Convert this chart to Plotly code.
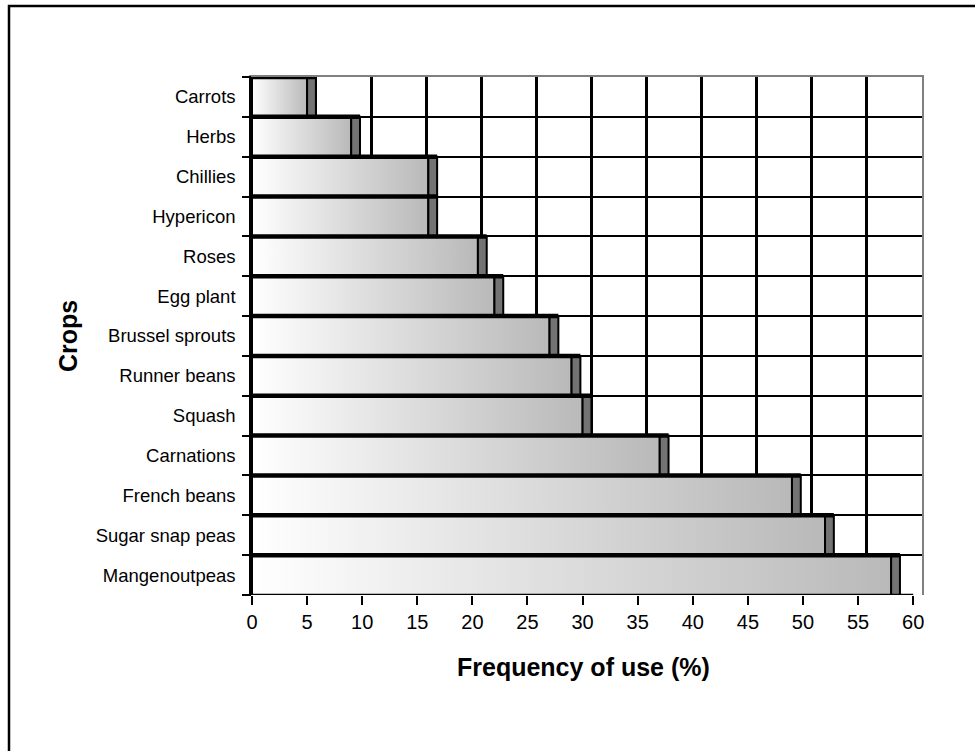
import plotly.graph_objects as go

# Crops, listed from the top of the chart to the bottom
crops = ["Carrots", "Herbs", "Chillies", "Hypericon", "Roses", "Egg plant",
         "Brussel sprouts", "Runner beans", "Squash", "Carnations",
         "French beans", "Sugar snap peas", "Mangenoutpeas"]
# Frequency of use (%)
frequency = [5, 9, 16, 16, 20.5, 22, 27, 29, 30, 37, 49, 52, 58]
x_ticks = list(range(0, 61, 5))

DEPTH = 0.8            # 3-D depth of the bars / back wall, in % units
FONT = "Liberation Sans, Arial, sans-serif"

n = len(crops)
slot = {c: n - 1 - k for k, c in enumerate(crops)}   # first crop sits on top
slot_edges = list(range(n + 1))
x_max = x_ticks[-1] + DEPTH

W, H = 975, 751
L, R, T, B = 252, 53, 77, 156
pw, ph = W - L - R, H - T - B

fig = go.Figure()

# bar front faces with a white-to-grey gradient
for c, v in zip(crops, frequency):
    y0, y1 = slot[c], slot[c] + 1
    fig.add_trace(go.Scatter(
        x=[0, v, v, 0, 0], y=[y0, y0, y1, y1, y0],
        mode="lines", fill="toself",
        fillgradient=dict(type="horizontal",
                          colorscale=[[0, "#ffffff"], [1, "#b9b9b9"]]),
        line=dict(color="black", width=2),
        hoverinfo="skip", showlegend=False))

# dark side faces of the bars
sx, sy = [], []
for c, v in zip(crops, frequency):
    y0, y1 = slot[c], slot[c] + 1
    sx += [v, v + DEPTH, v + DEPTH, v, v, None]
    sy += [y0, y0, y1, y1, y0, None]
fig.add_trace(go.Scatter(x=sx, y=sy, mode="lines", fill="toself",
                         fillcolor="#737373",
                         line=dict(color="black", width=2),
                         hoverinfo="skip", showlegend=False))

# top edges of the bars
tx, ty = [], []
for c, v in zip(crops, frequency):
    tx += [0, v + DEPTH, None]
    ty += [slot[c] + 1, slot[c] + 1, None]
fig.add_trace(go.Scatter(x=tx, y=ty, mode="lines",
                         line=dict(color="black", width=4.5),
                         hoverinfo="skip", showlegend=False))

# front floor edge
fig.add_trace(go.Scatter(x=[x_ticks[0], x_ticks[-1]], y=[0, 0], mode="lines",
                         line=dict(color="black", width=2.5),
                         hoverinfo="skip", showlegend=False))

# empty traces so the overlay axes are created
fig.add_trace(go.Scatter(x=[], y=[], xaxis="x2", yaxis="y2", showlegend=False))
fig.add_trace(go.Scatter(x=[], y=[], xaxis="x", yaxis="y3", showlegend=False))

fig.update_layout(
    width=W, height=H,
    margin=dict(l=L, r=R, t=T, b=B),
    paper_bgcolor="white", plot_bgcolor="white",
    showlegend=False,
    font=dict(family=FONT, color="black"),
    xaxis=dict(range=[0, x_max], tickvals=x_ticks,
               ticktext=[str(t) for t in x_ticks],
               ticks="outside", ticklen=9, tickwidth=2, tickcolor="black",
               tickfont=dict(size=20, family=FONT),
               showgrid=False, zeroline=False, showline=False,
               fixedrange=True),
    xaxis2=dict(overlaying="x", side="top", anchor="y2",
                range=[0, x_max],
                tickvals=[t + DEPTH for t in x_ticks[1:-1]],
                showticklabels=False, ticks="",
                showgrid=True, gridcolor="black", gridwidth=2.5,
                zeroline=False, showline=True, linecolor="#808080",
                linewidth=2),
    yaxis=dict(range=[0, n], tickvals=[slot[c] + 0.5 for c in crops],
               ticktext=crops, ticks="", ticklabelstandoff=10,
               tickfont=dict(size=18.5, family=FONT),
               showgrid=False, zeroline=False,
               showline=True, linecolor="black", linewidth=2.5),
    yaxis2=dict(overlaying="y", side="left", anchor="x2",
                range=[0, n], tickvals=slot_edges, showticklabels=False,
                ticks="outside", ticklen=9, tickwidth=2, tickcolor="black",
                showgrid=True, gridcolor="black", gridwidth=2,
                zeroline=False, showline=False),
    yaxis3=dict(overlaying="y", side="right", anchor="x",
                range=[0, n], showticklabels=False, ticks="",
                showgrid=False, zeroline=False,
                showline=True, linecolor="#808080", linewidth=2),
)

# axis titles
fig.add_annotation(text="<b>Frequency of use (%)</b>", xref="paper", yref="paper",
                   x=(583 - L) / pw, y=(H - B - 667) / ph,
                   xanchor="center", yanchor="middle",
                   showarrow=False, font=dict(size=25, family=FONT))
fig.add_annotation(text="<b>Crops</b>", xref="paper", yref="paper",
                   x=(68 - L) / pw, y=0.5, textangle=-90,
                   xanchor="center", yanchor="middle",
                   showarrow=False, font=dict(size=25, family=FONT))

# outer chart frame
fig.add_shape(type="rect", xref="paper", yref="paper",
              x0=(9 - L) / pw, x1=(W + 20 - L) / pw,
              y0=(H - B - (H + 20)) / ph, y1=(H - B - 6) / ph,
              line=dict(color="black", width=2.5), layer="below")

fig.write_html("out.html")
